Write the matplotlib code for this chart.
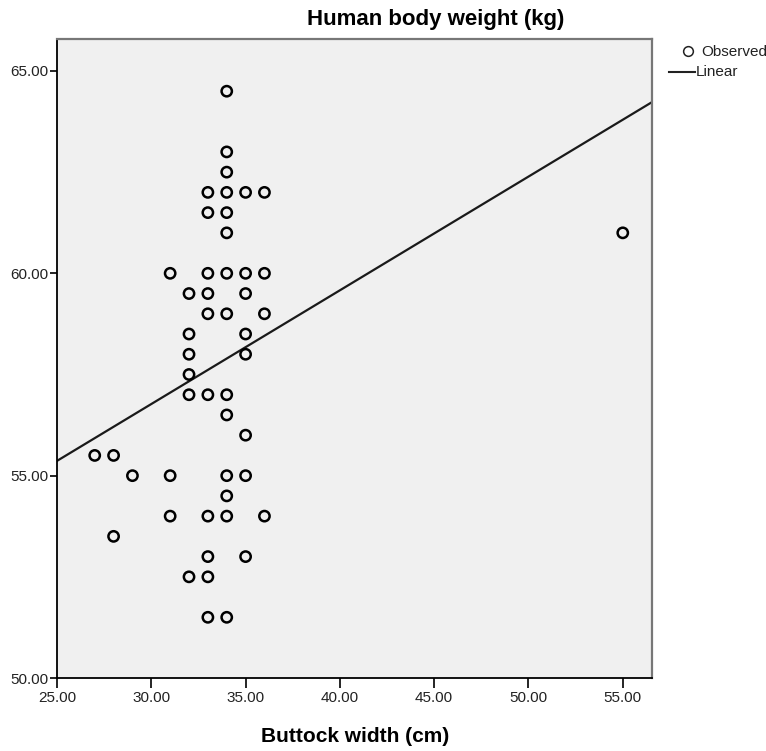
import numpy as np
import matplotlib
matplotlib.use("Agg")
import matplotlib.pyplot as plt
from matplotlib.lines import Line2D

plt.rcParams['font.family'] = ['Liberation Sans Narrow', 'Liberation Sans', 'DejaVu Sans']

# observed points (buttock width cm, body weight kg)
buttock = [34, 34, 34,
           33, 34, 35, 36,
           33, 34, 34,
           31, 33, 34, 35, 36,
           32, 33, 35,
           33, 34, 36,
           32, 35, 32, 35, 32,
           32, 33, 34, 34, 35,
           27, 28, 29, 31, 34, 35, 34,
           31, 33, 34, 36,
           28, 33, 35, 32, 33, 33, 34,
           55]
weight = [64.5, 63.0, 62.5,
          62.0, 62.0, 62.0, 62.0,
          61.5, 61.5, 61.0,
          60.0, 60.0, 60.0, 60.0, 60.0,
          59.5, 59.5, 59.5,
          59.0, 59.0, 59.0,
          58.5, 58.5, 58.0, 58.0, 57.5,
          57.0, 57.0, 57.0, 56.5, 56.0,
          55.5, 55.5, 55.0, 55.0, 55.0, 55.0, 54.5,
          54.0, 54.0, 54.0, 54.0,
          53.5, 53.0, 53.0, 52.5, 52.5, 51.5, 51.5,
          61.0]

# linear fit line as drawn (intercept, slope)
fit_intercept = 48.34
fit_slope = 0.281

xticks = [25, 30, 35, 40, 45, 50, 55]
yticks = [50, 55, 60, 65]
xmin, xmax = 25, 56.55
ymin, ymax = 50, 65.79

fig = plt.figure(figsize=(7.66, 7.51), dpi=100)
ax = fig.add_axes([57/766, 1 - 678/751, (652-57)/766, (678-39)/751])
ax.set_facecolor('#f0f0f0')

ax.scatter(buttock, weight, s=55, facecolors='none', edgecolors='black',
           linewidths=1.8, zorder=3)
lx = np.array([xmin, xmax])
ax.plot(lx, fit_intercept + fit_slope * lx, color='#1a1a1a', lw=1.6, zorder=2)

ax.set_xlim(xmin, xmax)
ax.set_ylim(ymin, ymax)
ax.set_xticks(xticks)
ax.set_xticklabels(['%.2f' % v for v in xticks])
ax.set_yticks(yticks)
ax.set_yticklabels(['%.2f' % v for v in yticks])
ax.tick_params(axis='x', length=7, width=1.2, labelsize=11, pad=2, colors='black')
ax.tick_params(axis='y', length=5, width=1.2, labelsize=11, pad=1, colors='black')
for lab in ax.get_xticklabels() + ax.get_yticklabels():
    lab.set_color('#222222')

for s in ['left', 'bottom']:
    ax.spines[s].set_color('black')
    ax.spines[s].set_linewidth(1.3)
for s in ['top', 'right']:
    ax.spines[s].set_color('#777777')
    ax.spines[s].set_linewidth(1.6)

fig.text(436/766, 1 - 19/751, 'Human body weight (kg)', ha='center', va='center',
         fontsize=16, fontweight='bold')
fig.text(355/766, 1 - 737/751, 'Buttock width (cm)', ha='center', va='center',
         fontsize=15, fontweight='bold')

# legend drawn by hand, outside the plot on the right
fig.add_artist(Line2D([688/766], [1 - 51/751], ls='none', marker='o', mfc='none',
                      mec='#222222', ms=7, mew=1.1, transform=fig.transFigure))
fig.text(701/766, 1 - 52/751, 'Observed', ha='left', va='center', fontsize=11,
         color='#222222')
fig.add_artist(Line2D([669/766, 695/766], [1 - 72/751, 1 - 72/751], color='#222222',
                      lw=1.5, transform=fig.transFigure))
fig.text(696/766, 1 - 72/751, 'Linear', ha='left', va='center', fontsize=11,
         color='#222222')

fig.savefig('out.png', dpi=100)
